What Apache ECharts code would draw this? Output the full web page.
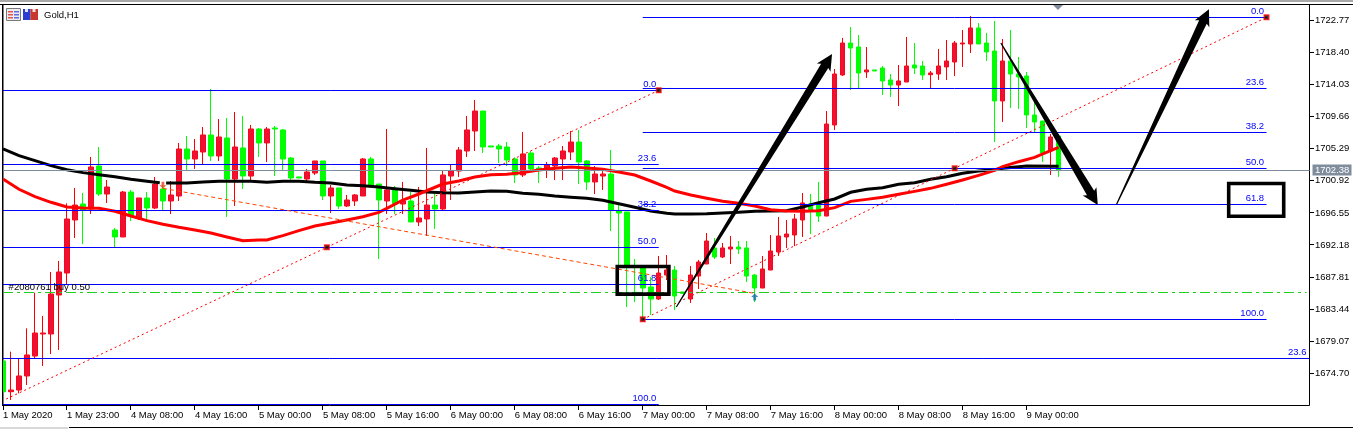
<!DOCTYPE html>
<html>
<head>
<meta charset="utf-8">
<style>html,body{margin:0;padding:0;background:#fff}#chart{width:1353px;height:429px}</style>
<script src="https://cdn.jsdelivr.net/npm/echarts@6/dist/echarts.min.js"></script>
</head>
<body>
<div id="chart"></div>
<script>
const opens = [1676.38,1672.20,1672.43,1674.34,1677.06,1680.06,1680.06,1685.37,1688.36,1695.58,
1697.76,1697.08,1702.93,1699.12,1694.22,1693.27,1699.39,1695.85,1698.58,1697.21,
1699.80,1698.17,1698.85,1705.25,1703.89,1704.84,1707.16,1704.30,1706.75,1701.16,
1705.39,1701.57,1707.97,1706.07,1708.11,1707.84,1704.02,1701.44,1701.16,1701.98,
1703.62,1698.85,1699.94,1697.49,1698.17,1698.85,1703.89,1700.48,1698.17,1699.67,
1697.76,1698.17,1695.31,1695.72,1697.62,1697.08,1701.57,1702.25,1704.98,1707.70,
1710.42,1705.66,1705.66,1705.52,1703.89,1701.71,1704.70,1702.66,1702.39,1702.93,
1703.89,1704.84,1706.20,1703.62,1700.76,1701.57,1701.84,1696.81,1696.67,1685.73,
1689.04,1686.46,1684.82,1688.09,1688.77,1685.78,1684.82,1687.95,1689.59,1691.77,
1690.54,1691.63,1691.90,1691.77,1688.09,1686.32,1688.77,1691.22,1693.27,1693.54,
1695.58,1697.76,1697.62,1696.12,1708.52,1715.33,1719.68,1719.14,1715.74,1716.01,
1716.28,1714.65,1713.96,1714.37,1716.69,1716.55,1715.37,1715.46,1716.42,1717.10,
1719.55,1719.55,1721.73,1719.68,1718.59,1711.79,1717.23,1715.46,1715.19,1709.88,
1709.06,1704.98,1707.02];
const closes = [1672.20,1672.43,1674.34,1677.20,1680.19,1680.19,1685.50,1688.50,1695.72,1697.62,
1696.94,1702.80,1699.12,1700.07,1693.27,1699.39,1696.26,1698.58,1697.21,1700.48,
1698.17,1698.99,1705.25,1703.89,1704.98,1707.16,1704.30,1706.88,1701.16,1705.52,
1701.57,1707.97,1706.07,1707.97,1707.97,1703.89,1701.30,1701.30,1702.12,1703.62,
1698.85,1699.94,1697.49,1698.30,1698.99,1703.89,1700.21,1698.30,1699.67,1697.76,
1698.17,1695.31,1695.85,1697.62,1697.08,1701.71,1702.25,1705.11,1707.84,1710.42,
1705.52,1705.52,1705.25,1703.75,1701.71,1704.57,1702.53,1702.53,1703.07,1704.02,
1704.98,1706.20,1703.48,1700.76,1701.84,1701.84,1696.94,1696.53,1689.13,1685.59,
1686.32,1684.82,1688.36,1688.77,1685.23,1685.59,1688.09,1689.86,1692.72,1690.54,
1691.77,1691.90,1691.63,1687.95,1686.32,1688.91,1691.36,1693.40,1693.67,1695.72,
1697.90,1696.94,1696.12,1708.65,1715.46,1719.68,1719.00,1715.60,1716.01,1715.87,
1714.51,1713.96,1714.51,1716.55,1716.28,1715.33,1715.60,1716.55,1717.23,1719.68,
1719.68,1721.73,1719.55,1718.46,1711.79,1717.23,1715.46,1715.05,1709.88,1708.93,
1704.70,1706.88,1702.39];
const lows = [1672.20,1671.07,1671.98,1673.11,1676.74,1675.70,1677.33,1677.88,1686.87,1693.13,
1692.31,1696.40,1698.85,1697.90,1691.86,1693.27,1695.44,1695.58,1695.72,1697.08,
1696.94,1696.40,1698.17,1702.25,1702.53,1703.21,1703.62,1703.62,1695.99,1697.49,
1699.80,1700.89,1704.16,1703.48,1701.57,1702.25,1701.03,1701.30,1700.89,1701.71,
1698.30,1696.53,1697.08,1697.35,1697.49,1698.85,1700.21,1690.27,1696.40,1696.40,
1696.40,1695.31,1694.76,1693.40,1694.36,1696.94,1698.30,1701.44,1704.16,1704.98,
1704.70,1705.52,1703.34,1702.93,1700.62,1701.44,1702.39,1700.62,1701.30,1701.03,
1701.03,1703.75,1700.48,1699.67,1699.12,1699.67,1694.08,1685.59,1683.73,1684.41,
1682.24,1682.64,1684.69,1687.41,1683.32,1685.59,1684.28,1686.18,1689.59,1690.27,
1690.41,1689.59,1690.95,1687.14,1684.41,1686.32,1688.77,1690.68,1691.77,1692.04,
1693.27,1693.67,1695.31,1696.12,1707.84,1715.19,1713.28,1713.56,1714.92,1715.87,
1712.60,1712.33,1711.10,1714.37,1715.46,1714.65,1713.56,1714.65,1714.65,1715.19,
1716.42,1718.32,1719.55,1717.23,1706.20,1708.93,1710.83,1710.70,1708.11,1707.56,
1703.48,1701.71,1701.44];
const highs = [1676.38,1677.65,1676.65,1680.83,1685.68,1682.51,1688.50,1690.00,1697.85,1699.94,
1699.26,1704.16,1705.52,1701.03,1694.49,1699.53,1699.67,1698.58,1699.39,1701.44,
1700.35,1700.89,1706.07,1707.02,1706.61,1708.25,1713.42,1709.33,1709.47,1710.29,
1709.74,1708.52,1708.11,1708.25,1708.38,1707.97,1704.16,1701.44,1702.53,1703.62,
1703.62,1700.35,1699.94,1698.99,1699.12,1704.02,1704.16,1700.48,1707.97,1700.21,
1700.76,1699.39,1700.07,1705.39,1699.12,1702.25,1703.07,1705.52,1709.74,1711.92,
1710.42,1705.66,1705.93,1706.20,1704.11,1707.56,1704.98,1702.93,1703.48,1704.16,
1705.66,1707.70,1707.84,1703.75,1702.93,1702.39,1705.11,1697.62,1696.67,1690.27,
1689.23,1687.82,1690.68,1690.81,1689.32,1685.78,1689.32,1690.13,1693.81,1693.13,
1692.45,1693.40,1692.72,1692.72,1688.23,1690.68,1693.54,1695.99,1695.58,1696.40,
1699.26,1699.12,1700.76,1710.42,1716.14,1720.37,1721.86,1720.77,1719.14,1716.01,
1716.55,1715.46,1716.69,1720.50,1719.68,1717.23,1715.87,1718.87,1720.09,1719.96,
1721.45,1723.36,1722.41,1721.05,1722.68,1720.23,1721.45,1717.78,1715.74,1711.65,
1709.06,1707.29,1707.29];

const xTickBars = [0,8,16,24,32,40,48,56,64,72,80,88,96,104,112,120,128];
const xTickLabels = ['1 May 2020','1 May 23:00','4 May 08:00','4 May 16:00','5 May 00:00','5 May 08:00','5 May 16:00','6 May 00:00','6 May 08:00','6 May 16:00','7 May 00:00','7 May 08:00','7 May 16:00','8 May 00:00','8 May 08:00','8 May 16:00','9 May 00:00'];
const yTicks = [1722.77,1718.40,1714.03,1709.66,1705.29,1700.92,1696.55,1692.18,1687.81,1683.44,1679.07,1674.70];

const blackMaBars = [0,2,4,6,8,10,12,14,16,18,19.6,20,20.4,21,23,25,27,29,31,33,35,37,39,41,43,45,47,49,51,53,55,57,59,61,63,65,67,69,71,73,75,77,79,81,83,84,86,88,90,92,94,96,98,100,102,104,106,108,110,112,114,116,118,120,122,124,125,128,132];
const blackMaVals = [1705.25,1704.34,1703.66,1702.98,1702.43,1702.03,1701.75,1701.48,1701.12,1700.85,1700.66,null,1700.62,1700.62,1700.62,1700.76,1700.85,1700.85,1700.85,1700.71,1700.85,1700.85,1700.71,1700.62,1700.35,1700.26,1700.07,1699.85,1699.62,1699.39,1699.30,1699.26,1699.39,1699.53,1699.48,1699.21,1699.08,1698.85,1698.67,1698.53,1698.26,1697.80,1697.31,1696.81,1696.49,1696.40,1696.40,1696.44,1696.53,1696.62,1696.76,1696.81,1696.85,1697.35,1697.94,1698.44,1699.35,1699.76,1699.98,1700.44,1700.66,1701.12,1701.48,1701.94,1702.25,1702.43,1702.62,1702.93,1702.89];
const redMaBars = [0,2,4,6,8,10,12,14,16,18,20,22,24,26,28,30,32,33,35,37,39,41,43,45,47,48,50,52,55,57,59,61,63,65,67,69,71,73,75,77,79,81,83,84,86,88,90,92,94,96,98,100,102,104,106,108,110,112,114,116,118,120,122,124,125,127,129,131,132];
const redMaVals = [1701.16,1699.76,1698.76,1697.99,1697.35,1697.21,1697.17,1696.76,1696.12,1695.49,1694.99,1694.58,1694.22,1693.81,1693.27,1692.77,1692.86,1692.86,1693.45,1694.13,1694.76,1695.17,1695.58,1696.03,1696.62,1697.17,1698.30,1699.12,1700.48,1700.89,1701.44,1701.75,1701.80,1702.03,1702.39,1702.62,1702.80,1702.66,1702.48,1702.12,1701.71,1700.89,1700.03,1699.53,1698.99,1698.53,1698.12,1697.85,1697.49,1696.99,1696.81,1696.76,1696.85,1697.26,1698.12,1698.39,1698.67,1699.08,1699.48,1699.89,1700.44,1701.03,1701.66,1702.34,1702.84,1703.52,1704.11,1705.02,1705.48];

const fibRatios = ['0.0','23.6','38.2','50.0','61.8','100.0'];
const fibLeftPrices = [1713.24,1703.16,1696.90,1691.86,1686.82,1670.48];
const fibRightPrices = [1723.18,1713.49,1707.50,1702.62,1697.73,1682.05];
const fibLeftSpan = [0,82];
const fibRightSpan = [80,158];
const extraFibPrice = 1676.74;
const orderPrice = 1685.73;
const lastPrice = 1702.38;
const orderText = '#2080761 buy 0.50';

const trendRise1 = [[0.4,1671.20],[82,1713.24]];
const trendRise2 = [[80,1682.05],[158,1723.18]];
const tradeLine = [[20,1699.89],[94,1685.59]];
const anchorPoints = [[40.5,1691.86],[82,1713.24],[80,1682.05],[119,1702.61],[158,1723.18]];
const entryMark = [[20,1700.31]];
const exitMark = [[94,1685.10]];
const arrowRows = [[84.2,1683.74,103.67,1718.19],[124.78,1719.68,136.9,1697.62],[139.25,1697.72,150.8,1724.27]];
const boxRows = [[76.81,1689.25,83.27,1685.48],[153.27,1700.55,160.15,1696.10]];

const X_MAX = 163.375, Y_MAX = 1724.925, Y_MIN = 1670.32;
const FAMILY = '"Liberation Sans", Arial, sans-serif';
const FONT = '9.5px ' + FAMILY;
const BLUE = '#0000ff';

const hRows = [], hStyle = [];
fibLeftPrices.forEach(p => { hRows.push([fibLeftSpan[0], fibLeftSpan[1], p]); hStyle.push({stroke: BLUE, lineWidth: 1}); });
fibRightPrices.forEach(p => { hRows.push([fibRightSpan[0], fibRightSpan[1], p]); hStyle.push({stroke: BLUE, lineWidth: 1}); });
hRows.push([0, X_MAX, extraFibPrice]); hStyle.push({stroke: BLUE, lineWidth: 1});
hRows.push([0, 163, orderPrice]); hStyle.push({stroke: '#1fd11f', lineWidth: 1, lineDash: [10, 4, 3, 4]});
hRows.unshift([0, X_MAX, lastPrice]); hStyle.unshift({stroke: '#7f8c9b', lineWidth: 1});

const textRows = [], textStyle = [];
fibRatios.forEach((t, k) => {
  textRows.push([81.7, fibLeftPrices[k]]); textStyle.push({text: t, align: 'right', dy: -6.2, fill: BLUE});
  textRows.push([157.7, fibRightPrices[k]]); textStyle.push({text: t, align: 'right', dy: -6.2, fill: BLUE});
});
textRows.push([163, extraFibPrice]); textStyle.push({text: '23.6', align: 'right', dy: -6.2, fill: BLUE});
textRows.push([0.7, orderPrice]); textStyle.push({text: orderText, align: 'left', dy: -5.2, fill: '#000'});

const tickRows = yTicks.map(v => [X_MAX, v, 1, 0]).concat(xTickBars.map(b => [b, Y_MIN, 0, 1]));

const ARROW_PATH = 'path://M3 0H7V5H10L5 10L0 5H3Z';

function lineSeries(name, data, color, width, z, type) {
  return {name, type: 'line', data, symbol: 'none', z, silent: true, animation: false, clip: true, connectNulls: false,
    lineStyle: {color, width, type: type || 'solid', cap: 'butt', join: 'miter'}, emphasis: {disabled: true}};
}
const candleData = opens.map((o, i) => [i, o, closes[i], lows[i], highs[i]]);

const option = {
  animation: false,
  backgroundColor: '#fff',
  title: {text: 'Gold,H1', left: 44, top: 10.5, padding: 0, textStyle: {fontFamily: FAMILY, fontSize: 9.5, fontWeight: 'normal', color: '#000'}},
  grid: {left: 2.5, top: 4.5, width: 1307, height: 401, show: true, backgroundColor: '#fff', borderColor: '#000', borderWidth: 1},
  xAxis: {type: 'value', min: 0, max: X_MAX, splitLine: {show: false},
    axisLine: {show: false}, axisTick: {show: false},
    axisLabel: {show: true, customValues: xTickBars, align: 'left', margin: 4.5, color: '#000', fontFamily: FAMILY, fontSize: 9.5,
      formatter: v => xTickLabels[xTickBars.indexOf(v)] || ''}},
  yAxis: {type: 'value', position: 'right', min: Y_MIN, max: Y_MAX, splitLine: {show: false},
    axisLine: {show: false}, axisTick: {show: false},
    axisLabel: {show: true, customValues: yTicks, margin: 5.5, padding: [2, 0, 0, 0], color: '#000', fontFamily: FAMILY, fontSize: 9.5,
      formatter: v => v.toFixed(2)}},
  series: [
    {name: 'Gold,H1', type: 'candlestick', z: 2, silent: true, barWidth: 5, encode: {x: 0, y: [1, 2, 3, 4]}, data: candleData,
      itemStyle: {color: '#ee1133', color0: '#00ff00', borderColor: '#ff0000', borderColor0: '#00ff00', borderWidth: 1}},
    {name: 'Gold,H1 bodies', type: 'candlestick', z: 2, silent: true, barWidth: 5, encode: {x: 0, y: [1, 2, 3, 4]}, data: candleData,
      itemStyle: {color: '#ee1133', color0: '#00ff00', borderColor: '#ee1133', borderColor0: '#00ff00', borderWidth: 0}},
    lineSeries('MA slow', blackMaBars.map((b, i) => [b, blackMaVals[i]]), '#000', 3, 3),
    lineSeries('MA fast', redMaBars.map((b, i) => [b, redMaVals[i]]), '#ff0000', 3, 3),
    {name: 'levels', type: 'custom', z: 4, silent: true, encode: {x: [0, 1], y: 2}, data: hRows,
      renderItem(params, api) {
        const a = api.coord([api.value(0), api.value(2)]), b = api.coord([api.value(1), api.value(2)]);
        const y = Math.floor(a[1]) + 0.5;
        return {type: 'line', shape: {x1: a[0], y1: y, x2: b[0], y2: y}, style: hStyle[params.dataIndex]};
      }},
    lineSeries('trend 1', trendRise1, '#ff0000', 1, 4, [2, 3]),
    lineSeries('trend 2', trendRise2, '#ff0000', 1, 4, [2, 3]),
    lineSeries('trade', tradeLine, '#ff4500', 1, 4, [4, 3]),
    {name: 'anchors', type: 'scatter', z: 5, silent: true, symbol: 'rect', symbolSize: 4.5, data: anchorPoints,
      itemStyle: {color: '#000', borderColor: '#ff0000', borderWidth: 1.5}},
    {name: 'entry', type: 'scatter', z: 5, silent: true, symbol: ARROW_PATH, symbolSize: 7, data: entryMark, itemStyle: {color: '#e8431f'}},
    {name: 'exit', type: 'scatter', z: 5, silent: true, symbol: ARROW_PATH, symbolRotate: 180, symbolSize: 7, data: exitMark, itemStyle: {color: '#0f6cb0'}},
    {name: 'labels', type: 'custom', z: 6, silent: true, encode: {x: 0, y: 1}, data: textRows,
      renderItem(params, api) {
        const p = api.coord([api.value(0), api.value(1)]), s = textStyle[params.dataIndex];
        return {type: 'text', x: p[0], y: p[1] + s.dy, style: {text: s.text, fill: s.fill, font: FONT, align: s.align, verticalAlign: 'middle'}};
      }},
    {name: 'arrows', type: 'custom', z: 7, silent: true, encode: {x: [0, 2], y: [1, 3]}, data: arrowRows,
      renderItem(params, api) {
        const s = api.coord([api.value(0), api.value(1)]), t = api.coord([api.value(2), api.value(3)]);
        const dx = t[0] - s[0], dy = t[1] - s[1], len = Math.hypot(dx, dy), ux = dx / len, uy = dy / len, nx = -uy, ny = ux;
        const hl = 16, hw = 8, sw = 4.2, tw = 0.6;
        const at = (d, w) => [s[0] + ux * d + nx * w, s[1] + uy * d + ny * w];
        return {type: 'polygon', shape: {points: [at(0, tw), at(len - hl + 2, sw), at(len - hl, hw), t, at(len - hl, -hw), at(len - hl + 2, -sw), at(0, -tw)]}, style: {fill: '#000'}};
      }},
    {name: 'boxes', type: 'custom', z: 7, silent: true, encode: {x: [0, 2], y: [1, 3]}, data: boxRows,
      renderItem(params, api) {
        const a = api.coord([api.value(0), api.value(1)]), b = api.coord([api.value(2), api.value(3)]);
        return {type: 'rect', shape: {x: a[0], y: a[1], width: b[0] - a[0], height: b[1] - a[1]}, style: {fill: 'none', stroke: '#000', lineWidth: 3.6}};
      }},
    {name: 'ticks', type: 'custom', z: 7, silent: true, clip: false, encode: {x: 0, y: 1}, data: tickRows,
      renderItem(params, api) {
        const p = api.coord([api.value(0), api.value(1)]), ox = api.value(2), oy = api.value(3);
        const x = ox ? p[0] : Math.floor(p[0]) + 0.5, y = oy ? p[1] : Math.floor(p[1]) + 0.5;
        return {type: 'line', shape: {x1: x, y1: y, x2: x + ox * 4.5, y2: y + oy * 4.5}, style: {stroke: '#000', lineWidth: 1}};
      }},
    {name: 'price tag', type: 'custom', z: 7, silent: true, encode: {x: 0, y: 1}, data: [[X_MAX, lastPrice]],
      renderItem(params, api) {
        const p = api.coord([api.value(0), api.value(1)]);
        return {type: 'group', children: [
          {type: 'rect', shape: {x: p[0] + 3, y: p[1] - 5.5, width: 39, height: 11}, style: {fill: '#7f8c9b'}},
          {type: 'text', x: p[0] + 5.5, y: p[1] + 0.5, style: {text: api.value(1).toFixed(2), fill: '#fff', font: FONT, align: 'left', verticalAlign: 'middle'}}
        ]};
      }}
  ],
  graphic: [
    {type: 'rect', silent: true, z: 100, shape: {x: 0, y: 0, width: 1353, height: 2}, style: {fill: '#a8a8a8'}},
    {type: 'rect', silent: true, z: 100, shape: {x: 0, y: 4, width: 1353, height: 1}, style: {fill: '#000'}},
    {type: 'rect', silent: true, z: 100, shape: {x: 0, y: 5, width: 2, height: 400}, style: {fill: '#fff'}},
    {type: 'rect', silent: true, z: 100, shape: {x: 2, y: 4, width: 1, height: 402}, style: {fill: '#000'}},
    {type: 'rect', silent: true, z: 100, shape: {x: 0, y: 427, width: 68, height: 2}, style: {fill: '#d8d8d8'}},
    {type: 'rect', silent: true, z: 100, shape: {x: 69, y: 427, width: 1284, height: 1}, style: {fill: '#000'}},
    {type: 'polygon', silent: true, z: 100, shape: {points: [[1053, 5], [1063, 5], [1058, 10]]}, style: {fill: '#7f8c9b'}},
    {type: 'rect', silent: true, z: 100, shape: {x: 6.5, y: 8.5, width: 14, height: 12}, style: {fill: '#eeeaf2', stroke: '#7a7a7a', lineWidth: 1}},
    {type: 'rect', silent: true, z: 100, shape: {x: 8, y: 11, width: 5, height: 1.5}, style: {fill: '#e0584a'}},
    {type: 'rect', silent: true, z: 100, shape: {x: 8, y: 14, width: 5, height: 1.5}, style: {fill: '#e0584a'}},
    {type: 'rect', silent: true, z: 100, shape: {x: 8, y: 17, width: 5, height: 1.5}, style: {fill: '#e0584a'}},
    {type: 'rect', silent: true, z: 100, shape: {x: 14, y: 11, width: 5, height: 1.5}, style: {fill: '#5a6ee0'}},
    {type: 'rect', silent: true, z: 100, shape: {x: 14, y: 14, width: 5, height: 1.5}, style: {fill: '#5a6ee0'}},
    {type: 'rect', silent: true, z: 100, shape: {x: 14, y: 17, width: 5, height: 1.5}, style: {fill: '#5a6ee0'}},
    {type: 'rect', silent: true, z: 100, shape: {x: 23, y: 9, width: 7.5, height: 11}, style: {fill: '#2a3fd0'}},
    {type: 'rect', silent: true, z: 100, shape: {x: 30.5, y: 9, width: 7.5, height: 11}, style: {fill: '#c8362e'}},
    {type: 'rect', silent: true, z: 100, shape: {x: 25, y: 9, width: 3, height: 3}, style: {fill: '#dfe4ff'}},
    {type: 'rect', silent: true, z: 100, shape: {x: 32.5, y: 9, width: 3, height: 3}, style: {fill: '#ffe0dd'}}
  ]
};
const chart = echarts.init(document.getElementById('chart'), null, {renderer: 'canvas'});
chart.setOption(option);
</script>
</body>
</html>
